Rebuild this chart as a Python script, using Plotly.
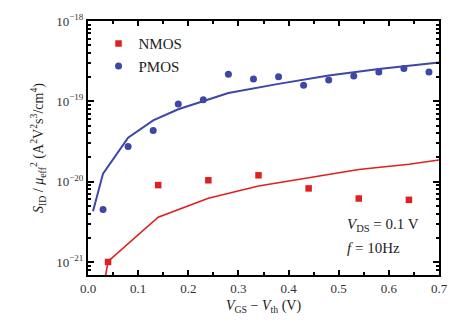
import plotly.graph_objects as go

# PMOS measured
pmos_x = [0.03, 0.08, 0.13, 0.18, 0.23, 0.28, 0.33, 0.38, 0.43, 0.48, 0.53, 0.58, 0.63, 0.68]
pmos_y = [4.5e-21, 2.74e-20, 4.33e-20, 9.25e-20, 1.05e-19, 2.17e-19, 1.9e-19, 2.03e-19,
          1.58e-19, 1.84e-19, 2.06e-19, 2.32e-19, 2.57e-19, 2.32e-19]
# PMOS model line
pmos_fit_x = [0.01, 0.03, 0.08, 0.13, 0.18, 0.23, 0.28, 0.38, 0.48, 0.58, 0.70]
pmos_fit_y = [4.27e-21, 1.26e-20, 3.52e-20, 5.8e-20, 7.96e-20, 1.0e-19, 1.27e-19,
              1.65e-19, 2.09e-19, 2.52e-19, 3.05e-19]
# NMOS measured
nmos_x = [0.04, 0.14, 0.24, 0.34, 0.44, 0.54, 0.64]
nmos_y = [1.0e-21, 9.06e-21, 1.04e-20, 1.2e-20, 8.24e-21, 6.17e-21, 5.94e-21]
# NMOS model line
nmos_fit_x = [0.03, 0.04, 0.14, 0.24, 0.34, 0.44, 0.54, 0.64, 0.70]
nmos_fit_y = [4.5e-22, 1.02e-21, 3.61e-21, 6.22e-21, 8.81e-21, 1.12e-20, 1.42e-20, 1.65e-20, 1.86e-20]

y_tickvals = [1e-21, 1e-20, 1e-19, 1e-18]
y_ticktext = ["10<sup>−21</sup>", "10<sup>−20</sup>", "10<sup>−19</sup>", "10<sup>−18</sup>"]

BLUE = "#3d47a6"
RED = "#e0201e"
FONT = "Liberation Serif"

fig = go.Figure()
fig.add_trace(go.Scatter(x=pmos_fit_x, y=pmos_fit_y, mode="lines",
                         line=dict(color=BLUE, width=2), showlegend=False))
fig.add_trace(go.Scatter(x=nmos_fit_x, y=nmos_fit_y, mode="lines",
                         line=dict(color=RED, width=1.6), showlegend=False))
fig.add_trace(go.Scatter(x=nmos_x, y=nmos_y, mode="markers", name="NMOS",
                         marker=dict(symbol="square", size=6.5, color=RED)))
fig.add_trace(go.Scatter(x=pmos_x, y=pmos_y, mode="markers", name="PMOS",
                         marker=dict(symbol="circle", size=7, color=BLUE)))

fig.update_layout(
    width=476, height=330,
    margin=dict(l=88, r=37, t=16, b=55),
    paper_bgcolor="white", plot_bgcolor="white",
    font=dict(family=FONT, size=13, color="#333333"),
    legend=dict(x=0.03, y=0.975, xanchor="left", yanchor="top",
                font=dict(family=FONT, size=15, color="#222222"),
                bgcolor="rgba(0,0,0,0)", itemwidth=30, tracegroupgap=0),
    annotations=[
        dict(x=0.512, y=0.195, xref="x", yref="paper", xanchor="left", yanchor="middle",
             text="<i>V</i><sub>DS</sub> = 0.1 V", showarrow=False,
             font=dict(family=FONT, size=15, color="#222222")),
        dict(x=0.512, y=0.105, xref="x", yref="paper", xanchor="left", yanchor="middle",
             text="<i>f</i> = 10Hz", showarrow=False,
             font=dict(family=FONT, size=15, color="#222222")),
    ],
)
fig.update_xaxes(
    range=[0, 0.7], dtick=0.1, tickformat=".1f",
    ticks="inside", ticklen=5, tickwidth=1.5, tickcolor="black",
    minor=dict(ticks="inside", ticklen=3, dtick=0.05, tickcolor="black"),
    showline=True, linewidth=2, linecolor="black", mirror="allticks",
    showgrid=False, zeroline=False,
    tickfont=dict(family=FONT, size=13, color="#333333"),
    title=dict(text="<i>V</i><sub>GS</sub> − <i>V</i><sub>th</sub> (V)",
               font=dict(family=FONT, size=14, color="#222222"), standoff=6),
)
fig.update_yaxes(
    type="log", range=[-21.162, -18],
    tickvals=y_tickvals, ticktext=y_ticktext,
    ticks="inside", ticklen=6, tickwidth=1.5, tickcolor="black",
    minor=dict(ticks="inside", ticklen=3, dtick="D1", tickcolor="black"),
    showline=True, linewidth=2, linecolor="black", mirror="allticks",
    showgrid=False, zeroline=False,
    tickfont=dict(family=FONT, size=13, color="#333333"),
    title=dict(text="<i>S</i><sub>ID</sub> / <i>μ</i><sub>eff</sub><sup>2</sup> (A<sup>2</sup>V<sup>2</sup>s<sup>3</sup>/cm<sup>4</sup>)",
               font=dict(family=FONT, size=14, color="#222222"), standoff=9),
)

fig.write_html("out.html")
